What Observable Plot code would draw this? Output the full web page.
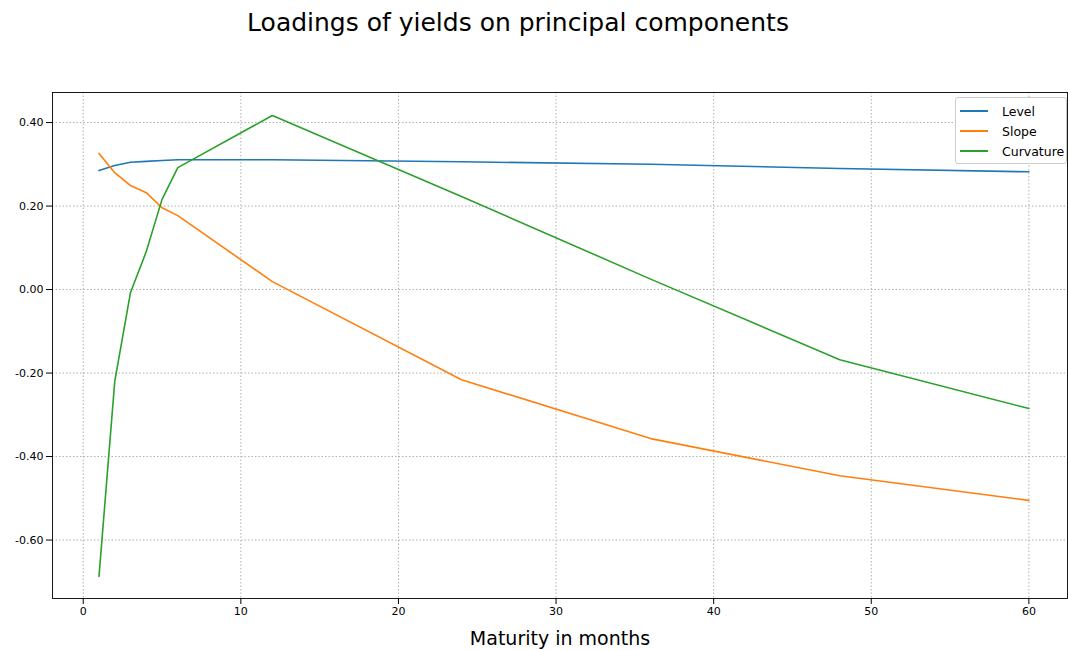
<!DOCTYPE html>
<html><head>
<meta charset="utf-8">
<script src="https://cdn.jsdelivr.net/npm/d3@7"></script>
<script src="https://cdn.jsdelivr.net/npm/@observablehq/plot@0.6"></script>
<style>
body{margin:0;font-family:"DejaVu Sans",sans-serif;background:#fff}
#wrap{position:relative;width:1068px}
#title{height:50px;line-height:46px;text-align:center;font-size:25px;padding-right:32px;box-sizing:border-box}
#legend{position:absolute;left:955px;top:97px;width:112px;border:1px solid #ccc;border-radius:3px;background:#fff;font-size:12.5px;padding:3px 0 2px 4px;box-sizing:border-box}
#legend div{height:20px;display:flex;align-items:center}
#legend span{display:inline-block;width:28px;height:2px;margin-right:14px}
</style></head>
<body><div id="wrap"><div id="title">Loadings of yields on principal components</div><div id="chart"></div><div id="legend"></div></div>
<script>
const maturities = [1, 2, 3, 4, 5, 6, 12, 24, 36, 48, 60];
const level = [0.285, 0.297, 0.305, 0.307, 0.309, 0.311, 0.311, 0.306, 0.300, 0.290, 0.282];
const slope = [0.326, 0.280, 0.249, 0.232, 0.196, 0.177, 0.019, -0.216, -0.357, -0.446, -0.505];
const curvature = [-0.687, -0.220, -0.007, 0.091, 0.216, 0.292, 0.417, 0.223, 0.025, -0.168, -0.285];
const seriesNames = ["Level", "Slope", "Curvature"];
const colors = ["#1f77b4", "#ff7f0e", "#2ca02c"];
const xTicks = [0, 10, 20, 30, 40, 50, 60];
const yTicks = [-0.6, -0.4, -0.2, 0, 0.2, 0.4];

const rows = [];
[level, slope, curvature].forEach((vals, i) =>
  vals.forEach((v, j) => rows.push({m: maturities[j], v, s: seriesNames[i]})));

const chart = Plot.plot({
  width: 1068, height: 600,
  marginTop: 42, marginBottom: 52, marginLeft: 52, marginRight: 1,
  style: {fontSize: "11px", fontFamily: "DejaVu Sans"},
  x: {domain: [-1.95, 62.45], ticks: xTicks, label: "Maturity in months", labelAnchor: "center", labelArrow: "none", labelOffset: 46},
  y: {domain: [-0.74, 0.472], ticks: yTicks, tickFormat: d => d.toFixed(2), label: null},
  color: {domain: seriesNames, range: colors},
  marks: [
    Plot.gridX(xTicks, {strokeDasharray: "1.5,2", stroke: "#b0b0b0", strokeOpacity: 1}),
    Plot.gridY(yTicks, {strokeDasharray: "1.5,2", stroke: "#b0b0b0", strokeOpacity: 1}),
    Plot.frame({stroke: "#000", strokeWidth: 0.9}),
    Plot.line(rows, {x: "m", y: "v", z: "s", stroke: "s", strokeWidth: 1.6})
  ]
});
d3.select(chart).selectAll("g[aria-label='x-axis label'] text").style("font-size", "19px");
d3.select("#chart").append(() => chart);
d3.select("#legend").selectAll("div").data(seriesNames).join("div")
  .html((d, i) => `<span style="background:${colors[i]}"></span>${d}`);
</script></body></html>
